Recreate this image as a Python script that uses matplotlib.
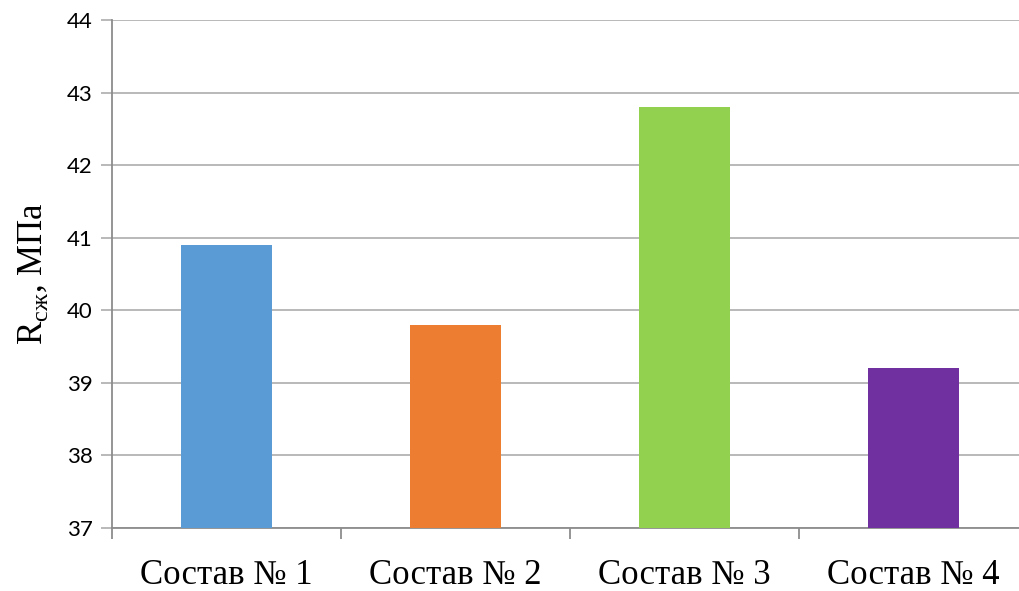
import matplotlib
matplotlib.use("Agg")
import matplotlib.pyplot as plt

categories = ["Состав № 1", "Состав № 2", "Состав № 3", "Состав № 4"]
values = [40.9, 39.8, 42.8, 39.2]
colors = ["#5B9BD5", "#ED7D31", "#92D050", "#7030A0"]
yticks = [37, 38, 39, 40, 41, 42, 43, 44]

fig = plt.figure(figsize=(10.19, 5.91), dpi=100)
ax = fig.add_axes([112/1019, 63/591, 916/1019, 508/591])

x = list(range(len(categories)))
ax.bar(x, [v - 37 for v in values], bottom=37, width=0.4, color=colors, zorder=3)
ax.set_xlim(-0.5, 3.5)
ax.set_ylim(37, 44)
ax.set_yticks(yticks)
ax.set_yticklabels([str(t) for t in yticks], fontfamily="Lato", fontsize=16)
ax.yaxis.grid(True, color="#A6A6A6", linewidth=1.1, zorder=0)
ax.set_axisbelow(True)

ax.set_xticks(x)
ax.set_xticklabels(categories, fontfamily="Liberation Serif", fontsize=25)
ax.tick_params(axis="x", length=0, pad=22)
# category boundary ticks
ax.set_xticks([-0.5, 0.5, 1.5, 2.5, 3.5], minor=True)
ax.tick_params(axis="x", which="minor", length=8, width=1.3, color="#8C8C8C")
ax.tick_params(axis="y", length=8, width=1.1, color="#A6A6A6", pad=6)

for s in ["top", "right"]:
    ax.spines[s].set_visible(False)
ax.spines["left"].set_color("#8C8C8C")
ax.spines["left"].set_linewidth(1.3)
ax.spines["bottom"].set_color("#8C8C8C")
ax.spines["bottom"].set_linewidth(1.3)

ax.set_ylabel("R$_{\\mathregular{сж}}$, МПа", fontfamily="Liberation Serif", fontsize=25, labelpad=12)

fig.savefig("out.png", dpi=100)
